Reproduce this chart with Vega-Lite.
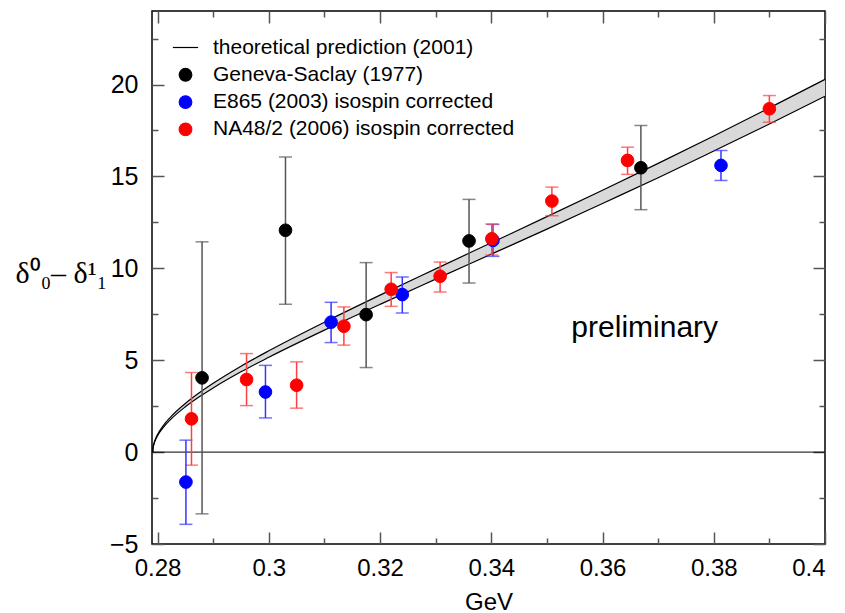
{
  "$schema": "https://vega.github.io/schema/vega-lite/v6.json",
  "width": 673,
  "height": 533,
  "padding": {"left": 15, "top": 10, "right": 19, "bottom": 5},
  "background": "white",
  "config": {
    "view": {"stroke": "black", "strokeWidth": 1.5},
    "font": "Liberation Sans",
    "axis": {"grid": false, "domain": false, "tickColor": "#555555", "tickWidth": 1.5, "labelFont": "Liberation Sans", "labelColor": "black", "titleColor": "black", "titleFontWeight": "normal"}
  },
  "datasets": {
    "theory": [
      {"E": 0.27914, "lo": 0, "hi": 0},
      {"E": 0.27918, "lo": 0.19, "hi": 0.2},
      {"E": 0.2793, "lo": 0.377, "hi": 0.407},
      {"E": 0.2796, "lo": 0.645, "hi": 0.697},
      {"E": 0.28, "lo": 0.89, "hi": 0.96},
      {"E": 0.281, "lo": 1.33, "hi": 1.433},
      {"E": 0.2825, "lo": 1.821, "hi": 1.96},
      {"E": 0.285, "lo": 2.464, "hi": 2.648},
      {"E": 0.2875, "lo": 3.006, "hi": 3.226},
      {"E": 0.29, "lo": 3.491, "hi": 3.743},
      {"E": 0.295, "lo": 4.368, "hi": 4.673},
      {"E": 0.3, "lo": 5.159, "hi": 5.511},
      {"E": 0.31, "lo": 6.635, "hi": 7.066},
      {"E": 0.32, "lo": 8.04, "hi": 8.54},
      {"E": 0.33, "lo": 9.41, "hi": 9.97},
      {"E": 0.34, "lo": 10.77, "hi": 11.39},
      {"E": 0.35, "lo": 12.13, "hi": 12.81},
      {"E": 0.36, "lo": 13.53, "hi": 14.25},
      {"E": 0.37, "lo": 14.93, "hi": 15.71},
      {"E": 0.38, "lo": 16.38, "hi": 17.2},
      {"E": 0.39, "lo": 17.85, "hi": 18.73},
      {"E": 0.4, "lo": 19.36, "hi": 20.28}
    ],
    "exp": [
      {"series": "Geneva-Saclay (1977)", "E": 0.288, "d": 4.04, "lo": -3.36, "hi": 11.44},
      {"series": "Geneva-Saclay (1977)", "E": 0.303, "d": 12.07, "lo": 8.04, "hi": 16.05},
      {"series": "Geneva-Saclay (1977)", "E": 0.3175, "d": 7.48, "lo": 4.6, "hi": 10.31},
      {"series": "Geneva-Saclay (1977)", "E": 0.336, "d": 11.49, "lo": 9.2, "hi": 13.75},
      {"series": "Geneva-Saclay (1977)", "E": 0.3669, "d": 15.47, "lo": 13.19, "hi": 17.77},
      {"series": "E865 (2003) isospin corrected", "E": 0.2851, "d": -1.63, "lo": -3.93, "hi": 0.65},
      {"series": "E865 (2003) isospin corrected", "E": 0.2994, "d": 3.27, "lo": 1.86, "hi": 4.72},
      {"series": "E865 (2003) isospin corrected", "E": 0.3112, "d": 7.07, "lo": 5.96, "hi": 8.15},
      {"series": "E865 (2003) isospin corrected", "E": 0.324, "d": 8.57, "lo": 7.57, "hi": 9.53},
      {"series": "E865 (2003) isospin corrected", "E": 0.3403, "d": 11.52, "lo": 10.65, "hi": 12.39},
      {"series": "E865 (2003) isospin corrected", "E": 0.3813, "d": 15.6, "lo": 14.78, "hi": 16.41},
      {"series": "NA48/2 (2006) isospin corrected", "E": 0.2861, "d": 1.81, "lo": -0.71, "hi": 4.33},
      {"series": "NA48/2 (2006) isospin corrected", "E": 0.296, "d": 3.95, "lo": 2.53, "hi": 5.36},
      {"series": "NA48/2 (2006) isospin corrected", "E": 0.305, "d": 3.64, "lo": 2.39, "hi": 4.91},
      {"series": "NA48/2 (2006) isospin corrected", "E": 0.3135, "d": 6.85, "lo": 5.82, "hi": 7.9},
      {"series": "NA48/2 (2006) isospin corrected", "E": 0.322, "d": 8.86, "lo": 7.93, "hi": 9.77},
      {"series": "NA48/2 (2006) isospin corrected", "E": 0.3308, "d": 9.57, "lo": 8.71, "hi": 10.34},
      {"series": "NA48/2 (2006) isospin corrected", "E": 0.3401, "d": 11.61, "lo": 10.72, "hi": 12.41},
      {"series": "NA48/2 (2006) isospin corrected", "E": 0.3509, "d": 13.66, "lo": 12.86, "hi": 14.42},
      {"series": "NA48/2 (2006) isospin corrected", "E": 0.3645, "d": 15.87, "lo": 15.11, "hi": 16.59},
      {"series": "NA48/2 (2006) isospin corrected", "E": 0.39, "d": 18.68, "lo": 17.95, "hi": 19.4}
    ],
    "note": [{"E": 0.3544, "d": 6.27, "label": "preliminary"}]
  },
  "resolve": {"axis": {"x": "independent", "y": "independent"}},
  "layer": [
    {
      "data": {"values": [{"zero": 0}]},
      "mark": {"type": "rule", "color": "black", "strokeWidth": 1},
      "encoding": {"y": {"field": "zero", "type": "quantitative", "axis": null}}
    },
    {
      "data": {"name": "theory"},
      "mark": {"type": "area", "fill": "#d9d9d9", "interpolate": "monotone"},
      "encoding": {
        "x": {"field": "E", "type": "quantitative", "scale": {"domain": [0.279, 0.4], "nice": false, "zero": false},
          "axis": {"orient": "bottom", "values": [0.28, 0.3, 0.32, 0.34, 0.36, 0.38, 0.4], "format": "~g", "tickSize": -12, "labelPadding": 24, "labelFontSize": 24, "labelBaseline": "top", "title": "GeV", "titleFontSize": 24, "titleY": 65, "titleBaseline": "alphabetic"}},
        "y": {"field": "lo", "type": "quantitative", "scale": {"domain": [-5, 24], "nice": false, "zero": false},
          "axis": {"orient": "left", "values": [-5, 0, 5, 10, 15, 20], "tickSize": -12, "labelPadding": 26, "labelFontSize": 25, "title": "δ⁰₀– δ¹₁", "titleFont": "Liberation Serif", "titleFontSize": 30, "titleAngle": 0, "titleX": -137, "titleY": 262, "titleAlign": "left", "titleBaseline": "middle"}},
        "y2": {"field": "hi"}
      }
    },
    {
      "data": {"name": "theory"},
      "mark": {"type": "line", "color": "black", "strokeWidth": 1.2, "interpolate": "monotone"},
      "encoding": {
        "x": {"field": "E", "type": "quantitative", "axis": {"orient": "bottom", "values": [0.29, 0.31, 0.33, 0.35, 0.37, 0.39], "tickSize": -6, "labels": false, "title": null}},
        "y": {"field": "lo", "type": "quantitative", "axis": {"orient": "left", "values": [-2.5, 2.5, 7.5, 12.5, 17.5, 22.5], "tickSize": -6, "labels": false, "title": null}}
      }
    },
    {
      "data": {"name": "theory"},
      "mark": {"type": "line", "color": "black", "strokeWidth": 1.2, "interpolate": "monotone"},
      "encoding": {
        "x": {"field": "E", "type": "quantitative", "axis": {"orient": "top", "values": [0.28, 0.3, 0.32, 0.34, 0.36, 0.38, 0.4], "tickSize": -12, "labels": false, "title": null}},
        "y": {"field": "hi", "type": "quantitative", "axis": {"orient": "right", "values": [-5, 0, 5, 10, 15, 20], "tickSize": -12, "labels": false, "title": null}}
      }
    },
    {
      "data": {"name": "exp"},
      "mark": {"type": "errorbar", "ticks": true, "size": 13, "thickness": 1.5},
      "encoding": {
        "x": {"field": "E", "type": "quantitative", "axis": null},
        "y": {"field": "lo", "type": "quantitative", "axis": null},
        "y2": {"field": "hi"},
        "color": {"field": "series", "type": "nominal", "legend": null,
          "scale": {"domain": ["Geneva-Saclay (1977)", "E865 (2003) isospin corrected", "NA48/2 (2006) isospin corrected"], "range": ["#555555", "#3535ff", "#ff4040"]}}
      }
    },
    {
      "data": {"name": "exp"},
      "mark": {"type": "point", "filled": true, "size": 160, "opacity": 1, "strokeWidth": 1},
      "encoding": {
        "x": {"field": "E", "type": "quantitative", "axis": {"orient": "top", "values": [0.29, 0.31, 0.33, 0.35, 0.37, 0.39], "tickSize": -6, "labels": false, "title": null}},
        "y": {"field": "d", "type": "quantitative", "axis": {"orient": "right", "values": [-2.5, 2.5, 7.5, 12.5, 17.5, 22.5], "tickSize": -6, "labels": false, "title": null}},
        "fill": {"field": "series", "type": "nominal",
          "scale": {"domain": ["theoretical prediction (2001)", "Geneva-Saclay (1977)", "E865 (2003) isospin corrected", "NA48/2 (2006) isospin corrected"], "range": ["#000000", "#000000", "#0000ff", "#ff0000"]},
          "legend": {"title": null, "orient": "none", "legendX": 23, "legendY": 26, "labelFontSize": 21, "labelFont": "Liberation Sans", "labelColor": "black", "symbolSize": 160, "symbolStrokeWidth": 1.2, "symbolOpacity": 1, "rowPadding": 5.3, "labelOffset": 17, "padding": 0, "labelLimit": 600}},
        "stroke": {"field": "series", "type": "nominal",
          "scale": {"domain": ["theoretical prediction (2001)", "Geneva-Saclay (1977)", "E865 (2003) isospin corrected", "NA48/2 (2006) isospin corrected"], "range": ["#000000", "#000000", "#0000ff", "#ff0000"]},
          "legend": {"title": null, "orient": "none", "legendX": 23, "legendY": 26, "labelFontSize": 21, "labelFont": "Liberation Sans", "labelColor": "black", "symbolSize": 160, "symbolStrokeWidth": 1.2, "symbolOpacity": 1, "rowPadding": 5.3, "labelOffset": 17, "padding": 0, "labelLimit": 600}},
        "shape": {"field": "series", "type": "nominal",
          "scale": {"domain": ["theoretical prediction (2001)", "Geneva-Saclay (1977)", "E865 (2003) isospin corrected", "NA48/2 (2006) isospin corrected"], "range": ["M-2,0H2", "circle", "circle", "circle"]},
          "legend": {"title": null, "orient": "none", "legendX": 23, "legendY": 26, "labelFontSize": 21, "labelFont": "Liberation Sans", "labelColor": "black", "symbolSize": 160, "symbolStrokeWidth": 1.2, "symbolOpacity": 1, "rowPadding": 5.3, "labelOffset": 17, "padding": 0, "labelLimit": 600}}
      }
    },
    {
      "data": {"name": "note"},
      "mark": {"type": "text", "align": "left", "baseline": "alphabetic", "fontSize": 30, "font": "Liberation Sans", "color": "black"},
      "encoding": {
        "x": {"field": "E", "type": "quantitative", "axis": null},
        "y": {"field": "d", "type": "quantitative", "axis": null},
        "text": {"field": "label"}
      }
    }
  ]
}
